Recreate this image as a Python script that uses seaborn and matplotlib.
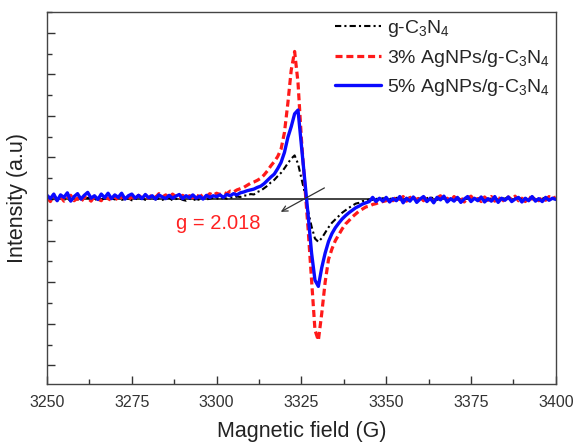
import numpy as np
import matplotlib
matplotlib.use('Agg')
import matplotlib.pyplot as plt
import seaborn as sns
from matplotlib.ticker import MultipleLocator

# field axis (G), 1 G step
field = np.arange(3250, 3401, 1)

# g-C3N4
gcn = [0.02, -0.03, 0.01, -0.02, 0.03, -0.01, 0.00, -0.04, 0.02, -0.01,
       0.01, -0.02, 0.03, 0.00, -0.03, 0.02, -0.01, 0.01, -0.02, 0.02,
       -0.01, 0.03, -0.02, 0.00, 0.02, -0.03, 0.01, -0.01, 0.02, -0.02,
       0.01, 0.03, -0.01, 0.02, -0.02, 0.01, 0.03, -0.03, 0.00, 0.02,
       -0.02, -0.04, 0.01, -0.03, 0.00, -0.02, 0.02, -0.01, 0.01, 0.03,
       0.02, 0.00, 0.03, 0.01, 0.04, 0.03, 0.06, 0.05, 0.09, 0.08,
       0.12, 0.11, 0.17, 0.20, 0.26, 0.32, 0.40, 0.46, 0.55, 0.63,
       0.74, 0.86, 0.97, 1.05, 0.85, 0.50, 0.15, -0.30, -0.66, -0.95,
       -1.03, -0.94, -0.81, -0.68, -0.57, -0.49, -0.41, -0.33, -0.27, -0.21,
       -0.16, -0.11, -0.09, -0.05, -0.04, -0.01, -0.02, 0.01, -0.01, 0.02,
       0.00, 0.02, -0.01, 0.03, 0.01, -0.02, 0.02, 0.04, 0.00, 0.01,
       0.03, -0.01, 0.02, 0.05, 0.01, -0.02, 0.02, 0.00, 0.03, -0.01,
       0.01, 0.04, -0.02, 0.00, 0.02, 0.05, -0.01, 0.01, 0.03, -0.02,
       0.02, 0.00, 0.04, -0.01, 0.02, 0.01, 0.05, -0.02, 0.01, 0.03,
       0.00, 0.02, -0.01, 0.04, 0.01, -0.02, 0.03, 0.01, 0.05, 0.00,
       0.02]

# 3% AgNPs/g-C3N4
ag3 = [0.04, -0.06, 0.08, -0.03, 0.06, -0.05, 0.03, 0.09, -0.04, 0.02,
       -0.07, 0.05, 0.02, -0.05, 0.07, 0.00, -0.04, 0.06, 0.01, -0.03,
       0.07, -0.04, 0.05, 0.02, -0.03, 0.06, 0.01, 0.09, 0.03, 0.07,
       0.02, 0.11, 0.04, 0.13, 0.05, 0.10, 0.03, 0.12, 0.06, 0.04,
       0.09, 0.02, 0.08, 0.03, 0.10, 0.05, 0.11, 0.06, 0.13, 0.09,
       0.14, 0.11, 0.16, 0.13, 0.19, 0.17, 0.22, 0.25, 0.28, 0.33,
       0.38, 0.41, 0.45, 0.50, 0.58, 0.68, 0.80, 0.90, 1.02, 1.20,
       1.60, 2.30, 3.10, 3.55, 2.80, 1.45, 0.35, -0.75, -1.95, -3.15,
       -3.40, -2.75, -2.00, -1.45, -1.20, -1.00, -0.86, -0.72, -0.60, -0.52,
       -0.43, -0.36, -0.29, -0.24, -0.19, -0.17, -0.13, -0.11, -0.08, -0.06,
       -0.04, 0.03, -0.04, 0.05, -0.01, 0.06, -0.05, 0.03, 0.07, -0.03,
       0.05, -0.04, 0.07, 0.01, -0.06, 0.03, 0.08, -0.03, 0.02, -0.05,
       0.06, -0.01, 0.03, -0.07, 0.02, 0.07, -0.04, 0.01, -0.06, 0.05,
       -0.03, 0.06, -0.05, 0.03, 0.00, -0.07, 0.05, -0.01, 0.07, -0.04,
       0.02, -0.06, 0.05, 0.00, 0.07, -0.04, 0.03, -0.03, 0.06, 0.01,
       0.05]

# 5% AgNPs/g-C3N4
ag5 = [0.09, 0.01, 0.12, -0.04, 0.10, 0.04, 0.15, -0.05, 0.06, 0.13,
       0.00, 0.09, 0.16, 0.02, 0.08, -0.01, 0.12, 0.03, 0.14, 0.01,
       0.10, 0.04, 0.14, 0.00, 0.08, 0.12, 0.02, 0.09, 0.01, 0.11,
       0.03, 0.08, 0.00, 0.10, 0.05, 0.01, 0.09, 0.02, 0.07, 0.11,
       0.01, 0.08, 0.03, 0.10, 0.02, 0.07, 0.00, 0.09, 0.04, 0.08,
       0.06, 0.10, 0.04, 0.11, 0.08, 0.13, 0.10, 0.15, 0.17, 0.20,
       0.22, 0.24, 0.28, 0.31, 0.37, 0.45, 0.53, 0.60, 0.73, 0.88,
       1.12, 1.48, 1.74, 2.05, 2.14, 1.30, 0.45, -0.40, -1.30, -1.95,
       -2.10, -1.65, -1.30, -1.02, -0.83, -0.69, -0.58, -0.48, -0.40, -0.33,
       -0.27, -0.21, -0.17, -0.12, -0.09, -0.06, 0.04, -0.06, 0.02, -0.05,
       0.04, -0.07, 0.01, -0.04, 0.06, -0.09, 0.02, -0.05, 0.05, -0.08,
       0.00, 0.06, -0.06, 0.02, -0.09, 0.04, -0.02, 0.07, -0.07, 0.01,
       -0.05, 0.04, -0.08, 0.00, 0.06, -0.06, 0.02, -0.04, 0.05, -0.07,
       0.01, -0.05, 0.06, -0.08, 0.02, -0.03, 0.05, -0.06, 0.00, 0.04,
       -0.07, 0.02, -0.04, 0.06, -0.05, 0.01, -0.06, 0.04, -0.03, 0.02,
       -0.01]

labels = ['g-C$_3$N$_4$', '3% AgNPs/g-C$_3$N$_4$', '5% AgNPs/g-C$_3$N$_4$']

sns.set_style('ticks')
plt.rcParams['font.family'] = ['Liberation Sans', 'DejaVu Sans']
plt.rcParams['mathtext.fontset'] = 'custom'
plt.rcParams['mathtext.rm'] = 'Liberation Sans'
plt.rcParams['mathtext.default'] = 'regular'

fig = plt.figure(figsize=(5.73, 4.42), dpi=100)
ax = fig.add_axes([0.082, 0.131, 0.888, 0.842])

sns.lineplot(x=field, y=gcn, ax=ax, color='black', lw=1.5,
             linestyle=(0, (3, 1.5, 1, 1.5)), label=labels[0])
sns.lineplot(x=field, y=ag3, ax=ax, color='#ff1a1a', lw=2.3,
             linestyle=(0, (2.2, 1.2)), label=labels[1])
sns.lineplot(x=field, y=ag5, ax=ax, color='#0a0aff', lw=2.4,
             label=labels[2])

# zero line
ax.axhline(0, color='#222222', lw=1.2, zorder=1)

# g value annotation
ax.annotate('', xy=(3318.2, -0.34), xytext=(3332.5, 0.30),
            arrowprops=dict(arrowstyle='->', color='#333333', lw=0.9))
ax.text(3300.6, -0.58, 'g = 2.018', color='#ff2222', fontsize=14.5,
        ha='center', va='center')

ax.set_xlim(3250, 3400)
ax.set_ylim(-4.45, 4.5)
ax.xaxis.set_major_locator(MultipleLocator(25))
ax.xaxis.set_minor_locator(MultipleLocator(12.5))
ax.yaxis.set_major_locator(MultipleLocator(1))
ax.yaxis.set_minor_locator(MultipleLocator(0.5))
ax.tick_params(which='both', direction='in', top=False, right=False,
               color='#333333')
ax.tick_params(which='major', length=6, width=1)
ax.tick_params(which='minor', length=3.5, width=1)
ax.tick_params(axis='x', labelsize=11.5, labelcolor='#333333', pad=8)
ax.set_yticklabels([])
for s in ax.spines.values():
    s.set_color('#444444')
    s.set_linewidth(1)

ax.set_xlabel('Magnetic field (G)', fontsize=15.5, color='#222222', labelpad=8)
ax.set_ylabel('Intensity (a.u)', fontsize=15.5, color='#222222', labelpad=10)

ax.legend(loc='upper right', frameon=False, fontsize=14, handlelength=2.4,
          handletextpad=0.3, labelspacing=0.45, borderaxespad=0.1,
          borderpad=0.2)

fig.savefig('out.png', dpi=100)
